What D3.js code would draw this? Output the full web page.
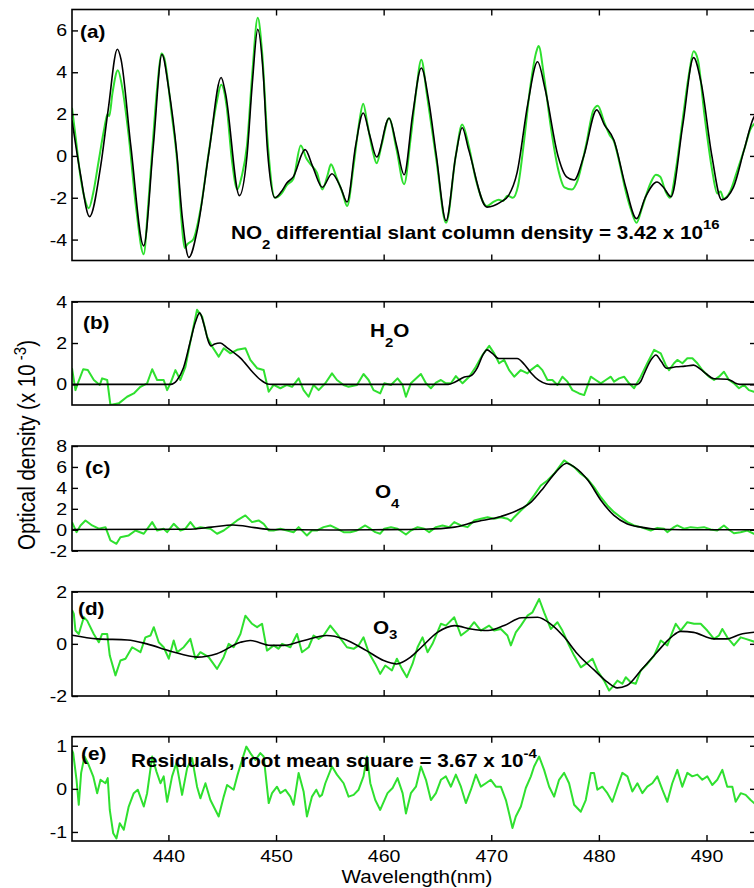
<!DOCTYPE html>
<html>
<head>
<meta charset="utf-8">
<script src="https://cdn.jsdelivr.net/npm/d3@7"></script>
<style>
  body { margin: 0; background: #fff; }
  svg { display: block; }
  text { font-family: Arial, "Liberation Sans", sans-serif; fill: #000; }
</style>
</head>
<body>
<svg id="chart" width="754" height="888"></svg>
<script>
// Wavelength axis
const wlDomain = [431.04, 494.6];
const wlTicks = [440, 450, 460, 470, 480, 490];

// (a) NO2: measured (green) and fitted (black), [wavelength, value]
const no2Meas = [[431.04,2.3],[431.4,0.8],[431.8,-0.9],[432.2,-2.0],[432.6,-2.5],[433.0,-1.8],[433.5,-0.3],[434.0,1.2],[434.35,2.0],[434.5,1.9],[434.8,3.0],[435.3,4.1],[435.7,3.3],[436.3,1.0],[437.0,-2.5],[437.7,-4.7],[438.1,-2.5],[438.5,0.3],[439.0,3.5],[439.35,4.9],[439.6,4.7],[440.3,2.0],[440.8,-0.2],[441.2,-3.0],[441.5,-4.4],[441.8,-4.2],[442.3,-4.0],[443.0,-2.5],[443.7,0.0],[444.5,2.6],[444.9,3.4],[445.4,2.4],[445.9,-0.2],[446.4,-1.6],[446.8,-1.0],[447.3,0.5],[447.8,4.0],[448.3,6.6],[448.7,5.0],[449.2,0.8],[449.9,-2.0],[450.5,-1.8],[451.0,-1.4],[451.6,-1.1],[452.3,0.5],[452.8,-0.1],[453.2,-0.4],[453.8,-0.8],[454.3,-1.6],[454.8,-0.9],[455.1,-0.4],[455.6,-1.0],[456.2,-1.8],[456.6,-2.4],[457.2,-0.5],[457.7,1.5],[458.1,2.5],[458.5,1.5],[459.0,0.2],[459.35,-0.35],[459.8,0.5],[460.5,1.8],[461.2,0.3],[461.9,-1.35],[462.5,0.8],[463.0,3.0],[463.5,4.6],[464.0,3.0],[464.9,-0.2],[465.8,-3.2],[466.7,0.0],[467.3,1.5],[467.9,0.5],[468.6,-1.2],[469.6,-2.4],[470.2,-2.2],[470.7,-2.1],[471.1,-2.15],[471.5,-1.9],[472.0,-2.0],[472.5,-1.4],[473.0,0.5],[473.6,3.2],[474.2,5.0],[474.4,5.25],[474.9,3.8],[475.5,1.5],[476.2,-0.6],[476.8,-1.5],[477.5,-1.6],[478.0,-1.2],[478.8,0.5],[479.5,2.2],[479.9,2.4],[480.5,1.6],[481.0,1.0],[481.4,0.7],[481.9,-0.3],[482.5,-1.7],[483.0,-2.6],[483.5,-3.2],[484.0,-2.5],[484.8,-1.3],[485.3,-0.9],[485.7,-1.0],[486.2,-1.7],[486.6,-2.0],[487.2,-0.5],[487.8,1.8],[488.4,4.0],[488.8,5.0],[489.2,4.6],[489.8,2.0],[490.5,-0.6],[491.0,-1.8],[491.3,-1.7],[491.6,-2.05],[492.2,-1.7],[492.8,-0.8],[493.5,0.3],[494.1,1.3],[494.6,1.6]];
const no2Fit = [[431.04,1.7],[431.8,-0.8],[432.67,-2.9],[433.7,-0.5],[434.4,2.2],[435.26,5.1],[435.6,4.6],[436.5,0.5],[437.7,-4.3],[438.6,0.5],[439.4,4.85],[440.0,3.3],[440.8,0.0],[441.3,-3.0],[441.9,-4.85],[442.7,-3.5],[443.8,0.3],[444.9,3.75],[445.3,3.0],[446.6,-1.9],[447.3,0.0],[447.8,3.5],[448.3,6.05],[448.8,4.0],[449.2,0.3],[449.9,-2.0],[450.5,-1.7],[451.0,-1.3],[451.6,-1.0],[452.7,0.3],[453.4,-0.5],[454.3,-1.5],[455.2,-0.85],[456.0,-1.5],[456.6,-2.2],[457.4,0.5],[458.1,2.05],[458.7,1.0],[459.35,-0.05],[460.5,1.8],[461.2,0.5],[461.9,-0.9],[462.7,2.0],[463.5,4.2],[464.2,2.6],[464.9,0.0],[465.8,-3.1],[466.7,0.0],[467.3,1.35],[467.9,0.3],[469.6,-2.45],[470.9,-2.2],[471.6,-1.9],[472.4,-0.8],[473.4,2.5],[474.3,4.5],[475.0,3.2],[476.2,0.0],[477.0,-1.0],[477.7,-1.15],[478.6,0.0],[479.8,2.2],[480.5,1.5],[481.4,0.75],[482.5,-1.5],[483.5,-3.0],[484.3,-2.0],[485.4,-1.25],[486.0,-1.5],[486.7,-1.95],[487.8,1.5],[488.8,4.7],[489.5,3.5],[490.5,0.0],[491.4,-2.1],[492.5,-1.5],[493.5,0.3],[494.4,1.85],[494.6,2.0]];

// (b) H2O
const h2oMeas = [[431.04,0.78],[431.36,-0.28],[431.58,0.05],[432.08,0.73],[432.51,0.69],[433.07,0.21],[433.62,-0.03],[433.84,0.29],[434.31,0.21],[434.61,-1.0],[435.39,-0.92],[436.16,-0.6],[436.78,-0.44],[437.4,-0.12],[438.02,0.05],[438.49,0.73],[438.95,0.21],[439.56,0.21],[439.88,-0.28],[440.19,0.05],[440.65,0.69],[441.11,0.21],[441.58,0.85],[442.04,2.07],[442.66,3.61],[443.13,3.28],[443.59,2.31],[444.06,1.83],[444.67,1.34],[445.14,1.75],[445.76,1.5],[446.38,1.67],[447.15,1.75],[447.61,1.18],[448.24,0.78],[448.85,0.69],[449.32,-0.36],[449.78,-0.03],[450.4,-0.19],[451.02,-0.03],[451.49,-0.12],[452.1,0.29],[452.56,-0.28],[453.03,-0.6],[453.49,-0.03],[453.96,-0.28],[454.58,0.05],[455.2,0.53],[455.66,0.21],[456.28,-0.03],[456.74,-0.12],[457.52,-0.03],[458.13,0.5],[458.6,0.21],[459.06,-0.28],[459.68,-0.44],[460.06,0.05],[460.68,-0.03],[461.29,0.29],[461.76,-0.03],[462.07,-0.6],[462.53,0.05],[463.46,0.5],[463.93,0.05],[464.39,-0.19],[464.86,0.08],[465.32,0.21],[465.78,0.05],[466.25,0.05],[466.71,0.4],[467.33,0.05],[467.95,0.37],[468.57,0.85],[469.18,1.42],[469.81,1.86],[470.27,1.5],[470.73,1.02],[471.2,1.18],[471.66,0.69],[472.13,0.37],[472.75,0.69],[473.36,0.53],[473.67,0.69],[474.29,0.94],[474.75,0.69],[475.22,0.21],[475.68,0.21],[476.15,-0.03],[476.61,0.37],[477.08,0.13],[477.54,-0.28],[478.16,-0.44],[478.63,-0.52],[479.25,0.37],[479.71,0.21],[480.18,0.05],[480.64,0.21],[481.11,0.37],[481.41,0.13],[481.88,0.29],[482.34,0.37],[482.81,0.05],[483.27,-0.19],[483.89,0.37],[484.5,1.02],[485.13,1.67],[485.75,1.5],[486.21,0.94],[486.52,0.69],[486.98,1.02],[487.29,1.18],[487.76,1.02],[488.22,1.26],[488.69,1.26],[489.15,1.02],[489.61,0.69],[490.23,0.37],[490.7,0.21],[491.16,0.37],[491.62,0.61],[492.09,0.21],[492.55,0.05],[493.02,-0.19],[493.48,-0.03],[493.94,-0.28],[494.41,-0.36],[494.6,-0.3]];
const h2oFit = [[431.04,0],[440.2,0],[440.8,0.2],[441.4,0.8],[442.0,2.0],[442.5,3.0],[442.9,3.46],[443.3,2.9],[443.7,2.1],[443.95,1.86],[444.3,1.95],[444.8,2.0],[445.5,1.75],[446.7,1.27],[447.9,0.55],[448.6,0.2],[449.2,0.02],[449.6,0],[466.0,0],[466.6,0.1],[467.5,0.35],[468.1,0.42],[468.7,0.8],[469.2,1.4],[469.6,1.67],[470.1,1.5],[470.7,1.25],[472.4,1.25],[473.1,0.95],[473.7,0.55],[474.4,0.2],[475.1,0.03],[475.5,0],[483.6,0],[483.9,0.15],[484.2,0.5],[484.8,1.15],[485.3,1.42],[485.8,1.1],[486.3,0.78],[487.2,0.85],[488.0,0.88],[488.8,0.93],[489.4,0.75],[490.0,0.5],[490.7,0.27],[491.9,0.25],[492.4,0.15],[492.7,0.05],[493.1,0],[494.6,0]];

// (c) O4
const o4Meas = [[431.04,0.73],[431.46,-0.23],[431.83,0.41],[432.29,0.89],[432.91,0.41],[433.53,0.1],[434.15,0.25],[434.61,-1.02],[435.17,-1.34],[435.54,-0.71],[436.31,-0.54],[436.94,-0.07],[437.71,-0.38],[438.49,0.73],[438.95,-0.07],[439.56,0.1],[439.88,-0.23],[440.49,0.57],[441.11,-0.07],[441.58,0.1],[442.04,0.73],[442.51,0.1],[442.97,0.25],[443.9,0.1],[444.52,-0.38],[445.14,-0.07],[445.76,0.41],[446.38,0.89],[447.15,1.37],[447.77,0.73],[448.38,0.89],[448.85,0.57],[449.32,-0.07],[449.78,-0.07],[450.4,0.1],[451.02,-0.07],[451.63,-0.23],[452.1,0.25],[452.56,-0.23],[452.87,-0.54],[453.34,-0.07],[453.8,-0.07],[454.42,0.25],[455.04,0.41],[455.66,0.1],[456.28,-0.23],[456.9,-0.23],[457.52,-0.07],[458.29,0.41],[458.76,0.1],[459.22,-0.23],[459.68,-0.38],[460.06,0.1],[460.68,0.25],[461.29,0.1],[462.07,-0.45],[462.53,-0.07],[463.15,0.25],[463.77,0.1],[464.23,-0.23],[464.86,0.25],[465.47,0.41],[466.09,0.25],[466.56,0.73],[467.18,0.41],[467.8,0.25],[468.42,0.89],[469.04,1.05],[469.66,1.2],[470.27,1.05],[470.89,1.2],[471.51,1.05],[471.82,0.82],[472.13,1.2],[472.75,1.84],[473.36,2.42],[473.98,3.28],[474.6,4.23],[475.22,4.71],[475.84,5.35],[476.3,5.98],[476.77,6.62],[477.23,6.3],[477.7,5.98],[478.31,5.35],[478.93,4.87],[479.55,4.07],[480.18,3.11],[480.79,2.32],[481.41,1.68],[482.03,1.2],[482.65,0.73],[483.27,0.41],[483.89,0.25],[484.82,-0.07],[485.43,0.18],[486.05,0.1],[486.36,-0.23],[486.98,0.25],[487.29,0.41],[487.91,0.1],[488.53,0.25],[489.15,0.18],[489.77,0.25],[490.39,0.03],[491.0,-0.07],[491.62,0.41],[492.09,0.0],[492.55,-0.33],[493.17,-0.23],[493.79,-0.07],[494.41,-0.38],[494.6,-0.3]];
const o4Fit = [[431.04,0.03],[441.8,0.05],[444.0,0.25],[446.0,0.45],[448.0,0.2],[449.5,0.02],[455.0,-0.03],[459.0,0],[463.8,0.05],[466.6,0.25],[468.4,0.73],[470.9,1.27],[472.4,1.84],[473.7,2.64],[474.9,4.07],[476.0,5.5],[477.0,6.35],[477.7,6.0],[479.0,4.7],[480.2,2.8],[481.4,1.37],[482.6,0.57],[483.9,0.25],[485.4,0.05],[490.0,0],[494.6,0]];

// (d) O3
const o3Meas = [[431.04,1.3],[431.21,1.15],[431.36,0.51],[431.67,0.38],[432.14,1.02],[432.45,0.89],[433.06,0.38],[433.53,0.06],[433.84,0.38],[434.31,0.38],[434.55,-0.45],[435.08,-1.21],[435.54,-0.64],[436.01,-0.57],[436.63,-0.13],[437.4,-0.32],[437.86,0.25],[438.33,0.32],[438.64,0.64],[439.1,0.06],[439.56,-0.13],[440.03,-0.57],[440.49,0.13],[440.81,-0.32],[441.42,-0.13],[442.04,0.19],[442.51,-0.57],[442.97,-0.32],[443.74,-0.51],[444.52,-0.96],[445.13,-0.51],[445.6,0],[446.06,-0.13],[446.69,0.38],[447.15,1.08],[447.77,0.77],[448.24,0.64],[448.7,0.77],[449.16,-0.26],[449.78,-0.06],[450.24,-0.19],[450.56,0],[451.33,-0.13],[451.95,0.38],[452.41,-0.32],[453.03,-0.13],[453.49,0.32],[453.96,0.19],[454.42,0.32],[455.04,0.7],[455.66,0.38],[456.59,-0.13],[457.21,-0.19],[457.67,-0.06],[458.13,0.25],[458.6,-0.32],[459.22,-0.77],[459.68,-1.15],[460.15,-0.83],[460.77,-1.02],[461.23,-0.57],[461.7,-0.96],[462.16,-1.28],[462.68,-0.77],[463.15,-0.13],[463.61,0.25],[464.08,-0.32],[464.54,0],[465.32,0.77],[465.78,0.7],[466.56,1.02],[467.18,0.32],[467.79,0.51],[468.41,0.83],[469.03,0.51],[469.8,0.7],[470.27,0.51],[470.89,0.57],[471.5,0.32],[471.82,-0.06],[472.28,0.44],[472.75,0.7],[473.36,1.08],[473.83,1.21],[474.45,1.72],[474.91,1.21],[475.53,0.57],[476.15,0.83],[476.61,0.51],[477.23,-0.06],[477.7,-0.45],[478.32,-0.9],[478.78,-0.77],[479.4,-0.57],[479.86,-1.02],[480.48,-1.41],[480.95,-1.79],[481.25,-1.66],[481.72,-1.41],[482.18,-1.53],[482.5,-1.28],[482.96,-1.47],[483.43,-1.53],[483.89,-1.02],[484.5,-0.77],[485.13,-0.45],[485.75,0.13],[486.36,-0.06],[486.82,0.44],[487.14,0.77],[487.6,0.51],[488.22,0.83],[488.84,0.77],[489.46,0.77],[490.07,0.51],[490.7,0.19],[491.16,0.32],[491.47,0.57],[491.93,0.25],[492.55,-0.06],[493.18,0.25],[493.64,0.19],[494.1,0.13],[494.6,0.06]];
const o3Fit = [[431.04,0.33],[433.4,0.19],[436.2,0.15],[438.0,0],[440.2,-0.28],[442.7,-0.51],[444.5,-0.38],[446.7,0.06],[447.6,0.13],[449.5,-0.06],[450.7,-0.06],[452.6,0.13],[454.7,0.32],[456.3,0.19],[458.4,-0.26],[460.0,-0.64],[461.2,-0.77],[462.5,-0.51],[463.5,-0.13],[465.0,0.44],[466.6,0.7],[468.1,0.57],[469.7,0.51],[471.2,0.7],[472.8,1.0],[474.3,1.02],[475.5,0.77],[476.8,0.25],[478.0,-0.38],[479.6,-1.02],[480.8,-1.47],[481.7,-1.69],[482.6,-1.6],[483.9,-1.02],[485.4,-0.32],[486.7,0.25],[487.6,0.48],[488.8,0.44],[490.7,0.19],[491.9,0.19],[493.1,0.36],[494.6,0.45]];

// (e) residuals
const residual = [[431.04,0.9],[431.15,0.83],[431.46,0.21],[431.67,-0.37],[431.89,0.37],[432.2,0.75],[432.51,0.6],[433.01,0.29],[433.38,-0.1],[433.69,0.21],[434.15,0.13],[434.36,0.25],[434.55,-0.49],[434.87,-1.03],[435.17,-1.15],[435.48,-0.8],[435.85,-0.95],[436.31,-0.41],[436.78,-0.1],[437.15,-0.02],[437.71,-0.41],[438.02,-0.1],[438.49,0.75],[438.89,0.4],[439.26,0.13],[439.56,0.29],[439.88,-0.3],[440.34,0.29],[440.74,0.6],[441.27,-0.14],[441.74,0.48],[442.2,0.71],[442.66,0.05],[442.97,-0.22],[443.44,0.13],[443.9,-0.26],[444.67,-0.64],[445.14,-0.18],[445.45,0.09],[446.06,-0.02],[446.43,0.33],[446.84,0.67],[447.24,0.98],[447.61,0.83],[448.08,0.67],[448.54,0.83],[448.85,0.75],[449.32,-0.33],[449.63,-0.1],[450.09,0.05],[450.4,-0.1],[450.86,-0.02],[451.33,-0.18],[451.63,-0.37],[452.1,0.37],[452.56,-0.06],[452.87,-0.64],[453.34,-0.18],[453.74,-0.02],[454.05,-0.18],[454.27,-0.14],[454.58,0.13],[455.2,0.52],[455.66,0.33],[456.28,0.13],[456.74,-0.18],[457.21,-0.14],[457.67,-0.02],[458.13,0.29],[458.45,0.75],[458.76,0.13],[459.22,-0.26],[459.68,-0.49],[460.36,-0.1],[460.83,0.02],[461.29,0.25],[461.76,-0.1],[462.07,-0.57],[462.53,-0.1],[463.0,0.05],[463.46,0.52],[463.93,0.21],[464.39,-0.26],[464.86,-0.1],[465.32,0.21],[465.78,0.29],[466.25,0.05],[466.71,0.33],[467.18,0.05],[467.64,-0.33],[468.11,-0.02],[468.57,0.33],[469.03,0.05],[469.5,0.13],[469.96,0.21],[470.43,0.05],[470.89,0.05],[471.36,-0.26],[471.66,-0.57],[471.97,-0.91],[472.28,-0.64],[472.75,-0.41],[473.21,0.02],[473.68,0.29],[473.98,0.52],[474.45,0.75],[474.91,0.44],[475.38,0.05],[475.84,-0.18],[476.3,0.21],[476.77,0.37],[477.23,0.13],[477.7,-0.37],[478.32,-0.53],[478.78,-0.26],[479.25,0.37],[479.55,0.37],[479.86,-0.02],[480.32,0.05],[480.79,-0.1],[481.25,-0.3],[481.72,0.05],[482.18,0.37],[482.65,0.29],[483.11,-0.06],[483.58,0.13],[484.04,-0.1],[484.5,0.05],[484.97,0.13],[485.43,0.29],[485.9,-0.02],[486.36,-0.3],[486.82,0.13],[487.29,0.44],[487.75,0.05],[488.22,0.37],[488.68,0.29],[489.15,0.33],[489.61,0.21],[490.07,0.29],[490.54,0.09],[491.0,0.21],[491.47,0.44],[491.93,0.05],[492.4,0.05],[492.71,-0.3],[493.18,-0.1],[493.64,-0.14],[494.1,-0.26],[494.6,-0.37]];

// Panels: pixel bands, value domains and y ticks
const panels = [
  { key: "a", top: 9.5,   bottom: 260.5, domain: [-5, 7],       ticks: [-4, -2, 0, 2, 4, 6], meas: no2Meas, fit: no2Fit, smoothMeas: true },
  { key: "b", top: 301.7, bottom: 405,   domain: [-1, 4],       ticks: [0, 2, 4],            meas: h2oMeas, fit: h2oFit },
  { key: "c", top: 446,   bottom: 550.7, domain: [-2, 8],       ticks: [-2, 0, 2, 4, 6, 8],  meas: o4Meas,  fit: o4Fit },
  { key: "d", top: 591.7, bottom: 696,   domain: [-2, 2],       ticks: [-2, 0, 2],           meas: o3Meas,  fit: o3Fit },
  { key: "e", top: 736.7, bottom: 841,   domain: [-1.21, 1.21], ticks: [-1, 0, 1],           meas: residual, fit: null }
];

const SX = 1.15;          // the figure is slightly stretched sideways
const GREEN = "#2fe02f";
const left = 72, right = 756;

const svg = d3.select("#chart");
const x = d3.scaleLinear().domain(wlDomain).range([left, right]);

// Writes a text made of parts: {t, size, dy} (dy shifts baseline for sub/superscripts)
function label(parent, px, py, parts, opts = {}) {
  const t = parent.append("text")
    .attr("transform", `translate(${px},${py}) scale(${SX},1)` + (opts.rotate ? ` rotate(${opts.rotate})` : ""))
    .attr("font-size", opts.size || 18)
    .attr("font-weight", opts.bold ? "bold" : "normal")
    .attr("text-anchor", opts.anchor || "start");
  let shift = 0;
  parts.forEach(p => {
    const s = t.append("tspan").text(p.t);
    if (p.size) s.attr("font-size", p.size);
    const dy = (p.dy || 0) - shift;
    if (dy) s.attr("dy", dy);
    shift = p.dy || 0;
  });
  return t;
}

// plain hyphen minus, as in the original
const fmt = d => String(d);

panels.forEach((p, i) => {
  const y = d3.scaleLinear().domain(p.domain).range([p.bottom, p.top]);
  const g = svg.append("g").attr("class", "panel-" + p.key);
  const last = i === panels.length - 1;

  g.append("clipPath").attr("id", "clip-" + p.key)
    .append("rect").attr("x", left).attr("y", p.top).attr("width", right - left).attr("height", p.bottom - p.top);

  const plot = g.append("g").attr("clip-path", `url(#clip-${p.key})`);

  const line = d3.line().x(d => x(d[0])).y(d => y(d[1]));

  plot.append("path").datum(p.meas)
    .attr("fill", "none").attr("stroke", GREEN).attr("stroke-width", 2)
    .attr("stroke-linejoin", "round")
    .attr("d", line.curve(p.smoothMeas ? d3.curveMonotoneX : d3.curveLinear));

  if (p.fit) {
    plot.append("path").datum(p.fit)
      .attr("fill", "none").attr("stroke", "#000").attr("stroke-width", 1.6)
      .attr("d", line.curve(d3.curveMonotoneX));
  }

  // Inward ticks on all four sides
  const axes = [
    [d3.axisBottom(x).tickValues(wlTicks).tickSize(-6).tickPadding(9), `translate(0,${p.bottom})`, last],
    [d3.axisTop(x).tickValues(wlTicks).tickSize(-6), `translate(0,${p.top})`, false],
    [d3.axisLeft(y).tickValues(p.ticks).tickSize(-6).tickPadding(4.3), `translate(${left},0)`, true],
    [d3.axisRight(y).tickValues(p.ticks).tickSize(-6), `translate(${right},0)`, false]
  ];
  axes.forEach(([ax, tr, labels]) => {
    ax.tickFormat(labels ? fmt : "");
    const a = g.append("g").attr("transform", tr).call(ax);
    a.select(".domain").remove();
    a.selectAll(".tick line").attr("stroke", "#000").attr("stroke-width", 1.4);
    a.selectAll(".tick text")
      .attr("font-size", 17)
      .attr("font-family", 'Arial, "Liberation Sans", sans-serif')
      .attr("transform", `scale(${SX},1)`);
  });

  g.append("rect")
    .attr("x", left).attr("y", p.top)
    .attr("width", right - left).attr("height", p.bottom - p.top)
    .attr("fill", "none").attr("stroke", "#000").attr("stroke-width", 1.6);
});

// Panel letters and species names
const notes = svg.append("g");
label(notes, 80, 38,  [{ t: "(a)" }], { bold: true });
label(notes, 83, 329, [{ t: "(b)" }], { bold: true });
label(notes, 85, 474, [{ t: "(c)" }], { bold: true });
label(notes, 78, 615, [{ t: "(d)" }], { bold: true });
label(notes, 81, 760, [{ t: "(e)" }], { bold: true });

label(notes, 370, 337, [{ t: "H" }, { t: "2", size: 13, dy: 10 }, { t: "O" }], { bold: true });
label(notes, 375, 498, [{ t: "O" }, { t: "4", size: 13, dy: 10 }], { bold: true });
label(notes, 373, 634, [{ t: "O" }, { t: "3", size: 13, dy: 5 }], { bold: true });

label(notes, 231, 239, [
  { t: "NO" }, { t: "2", size: 13, dy: 10 },
  { t: " differential slant column density = 3.42 x 10" },
  { t: "16", size: 13, dy: -10 }
], { bold: true });

label(notes, 131, 767, [
  { t: "Residuals, root mean square = 3.67 x 10" },
  { t: "-4", size: 13, dy: -9 }
], { bold: true });

// Axis titles
label(svg, 417, 883, [{ t: "Wavelength(nm)" }], { size: 18, anchor: "middle" });
label(svg, 35, 445, [
  { t: "Optical density (x 10" },
  { t: " -3", size: 15, dy: -8 },
  { t: ")" }
], { size: 20.5, anchor: "middle", rotate: -90 });
</script>
</body>
</html>
